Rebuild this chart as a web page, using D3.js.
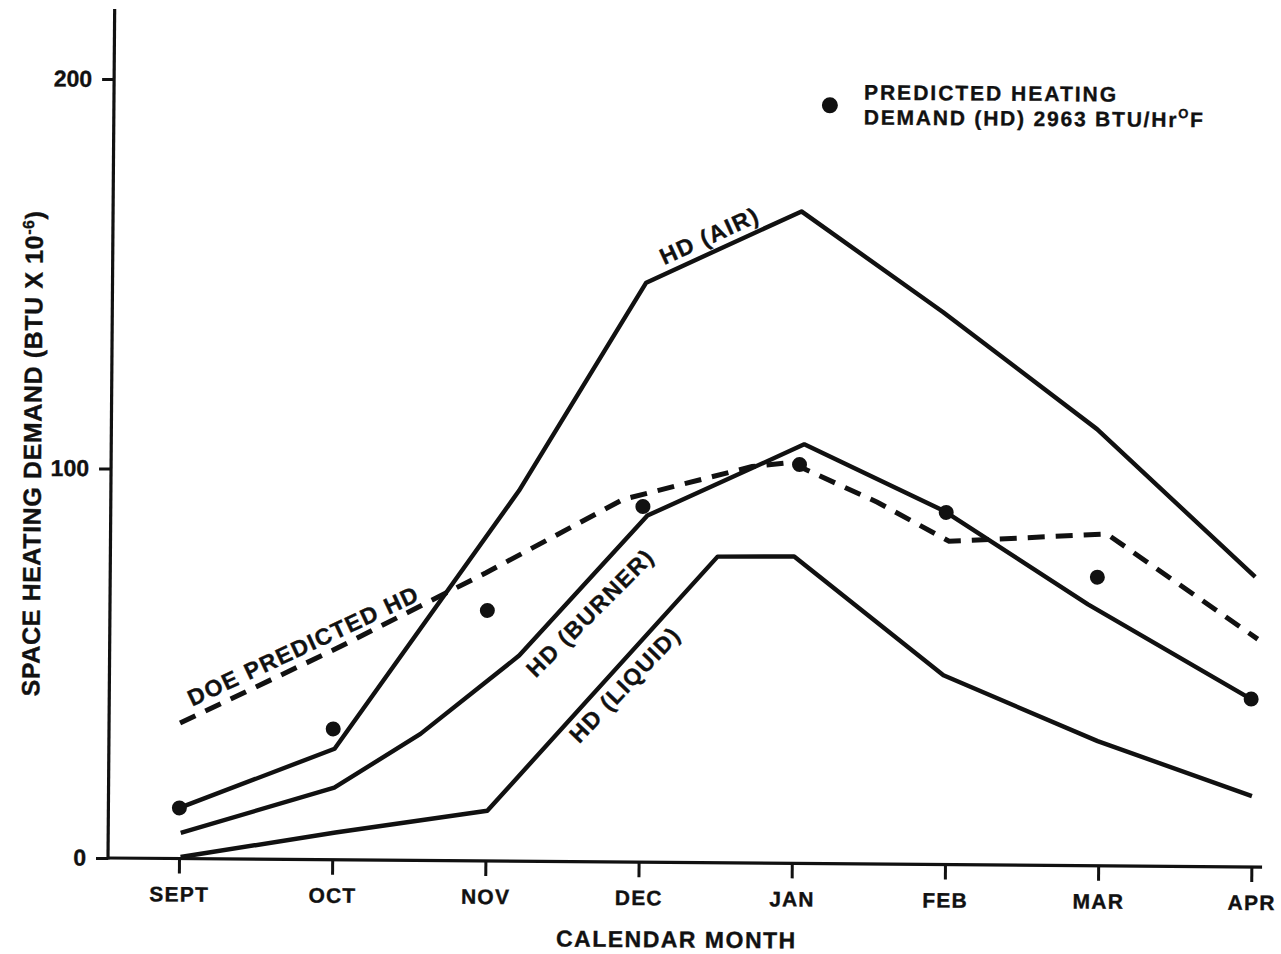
<!DOCTYPE html>
<html>
<head>
<meta charset="utf-8">
<script src="https://d3js.org/d3.v7.min.js"></script>
<style>
  body { margin: 0; background: #fff; }
  text { font-family: "Liberation Sans", Arial, sans-serif; font-weight: bold; fill: #111; stroke: #111; stroke-width: 0.35px; }
</style>
</head>
<body>
<div id="chart"></div>
<script>
// month index (0 = SEPT ... 7 = APR) and space heating demand (BTU x 10^-6)
var months = ["SEPT", "OCT", "NOV", "DEC", "JAN", "FEB", "MAR", "APR"];
var yTicks = [0, 100, 200];

var airX = [0, 1.01, 2.20, 3.02, 4.03, 4.96, 5.97, 7.01];
var airY = [13.0, 28.5, 95.1, 148.8, 167.4, 141.8, 112.1, 74.5];

var burnerX = [0.01, 1.01, 1.57, 2.21, 3.04, 4.06, 4.98, 5.92, 6.99];
var burnerY = [6.6, 18.5, 32.5, 52.8, 89.0, 107.6, 90.7, 67.1, 43.1];

var liquidX = [0.01, 1.02, 2.01, 3.50, 4.00, 4.98, 5.99, 7.0];
var liquidY = [0.4, 7.0, 12.9, 78.6, 78.8, 48.6, 32.0, 18.2];

var doeX = [0, 0.99, 1.99, 2.88, 3.72, 3.97, 4.54, 5.01, 6.04, 7.03];
var doeY = [34.8, 53.7, 74.0, 93.1, 101.8, 102.9, 92.9, 83.0, 85.2, 58.5];

// predicted heating demand (HD) 2963 BTU/Hr F
var predX = [0, 1, 2, 3.01, 4.03, 4.99, 5.98, 6.99];
var predY = [13.0, 33.6, 64.3, 91.3, 102.4, 90.4, 74.1, 43.1];

var W = 1281, H = 954;
var svg = d3.select("#chart").append("svg")
  .attr("width", W)
  .attr("height", H);
svg.append("rect").attr("width", W).attr("height", H).attr("fill", "#fff");

// the scanned original sits slightly tilted
var g = svg.append("g").attr("transform", "rotate(0.45,108,858)");

var x = d3.scaleLinear().domain([0, 7]).range([179, 1251.4]);
var y = d3.scaleLinear().domain([0, 200]).range([858, 79]);
var axisX = 108;

// axis lines
g.append("line")
  .attr("x1", axisX).attr("x2", axisX)
  .attr("y1", y(0) + 1.5).attr("y2", y(218))
  .attr("stroke", "#111").attr("stroke-width", 3.2);
g.append("line")
  .attr("x1", axisX).attr("x2", x(7.07))
  .attr("y1", y(0)).attr("y2", y(0))
  .attr("stroke", "#111").attr("stroke-width", 3.2);

// y axis ticks
var yAxis = g.append("g")
  .attr("transform", "translate(" + axisX + ",0)")
  .call(d3.axisLeft(y).tickValues(yTicks).tickSize(12).tickPadding(10));
yAxis.select(".domain").remove();
yAxis.selectAll(".tick line").attr("stroke", "#111").attr("stroke-width", 3);
yAxis.selectAll(".tick text")
  .attr("font-family", "Liberation Sans, Arial, sans-serif")
  .attr("font-size", 23)
  .attr("font-weight", "bold")
  .attr("fill", "#111");

// x axis ticks
var xAxis = g.append("g")
  .attr("transform", "translate(0," + y(0) + ")")
  .call(d3.axisBottom(x).tickValues(d3.range(months.length))
    .tickFormat(function(i) { return months[i]; }).tickSize(15));
xAxis.select(".domain").remove();
xAxis.selectAll(".tick line").attr("stroke", "#111").attr("stroke-width", 3);
xAxis.selectAll(".tick text")
  .attr("y", 43).attr("dy", null)
  .attr("font-family", "Liberation Sans, Arial, sans-serif")
  .attr("font-size", 21)
  .attr("font-weight", "bold")
  .attr("letter-spacing", 1.2)
  .attr("fill", "#111");

// axis titles
g.append("text")
  .attr("x", 677).attr("y", 943)
  .attr("text-anchor", "middle")
  .attr("font-size", 23)
  .attr("letter-spacing", 1.5)
  .text("CALENDAR MONTH");

var yt = g.append("text")
  .attr("transform", "translate(38,454) rotate(-90)")
  .attr("text-anchor", "middle")
  .attr("font-size", 25)
  .attr("letter-spacing", 0.6);
yt.append("tspan").text("SPACE HEATING DEMAND (BTU X 10");
yt.append("tspan").attr("font-size", 16).attr("dy", -9).text("-6");
yt.append("tspan").attr("dy", 9).text(")");

// lines
var line = d3.line()
  .x(function(d) { return x(d[0]); })
  .y(function(d) { return y(d[1]); });

var solid = [d3.zip(airX, airY), d3.zip(burnerX, burnerY), d3.zip(liquidX, liquidY)];
g.selectAll(".solid").data(solid).enter().append("path")
  .attr("class", "solid")
  .attr("d", line)
  .attr("fill", "none")
  .attr("stroke", "#111")
  .attr("stroke-width", 4.4)
  .attr("stroke-linejoin", "round");

g.append("path")
  .datum(d3.zip(doeX, doeY))
  .attr("d", line)
  .attr("fill", "none")
  .attr("stroke", "#111")
  .attr("stroke-width", 5)
  .attr("stroke-dasharray", "17,11");

// predicted points
g.selectAll(".pt").data(d3.zip(predX, predY)).enter().append("circle")
  .attr("class", "pt")
  .attr("cx", function(d) { return x(d[0]); })
  .attr("cy", function(d) { return y(d[1]); })
  .attr("r", 7.5)
  .attr("fill", "#111");

// line labels: text, month index, value, angle
var labels = [
  ["HD (AIR)", 3.43, 161.0, -25],
  ["DOE PREDICTED HD", 0.80, 54.9, -25.5],
  ["HD (BURNER)", 2.67, 64.0, -45.5],
  ["HD (LIQUID)", 2.90, 45.6, -47]
];
g.selectAll(".lbl").data(labels).enter().append("text")
  .attr("class", "lbl")
  .attr("transform", function(d) {
    return "translate(" + x(d[1]) + "," + y(d[2]) + ") rotate(" + d[3] + ")";
  })
  .attr("text-anchor", "middle")
  .attr("dy", "0.36em")
  .attr("font-size", 23)
  .attr("letter-spacing", 1.5)
  .text(function(d) { return d[0]; });

// legend
var lx = x(4.21), ly = y(194.7);
g.append("circle").attr("cx", lx).attr("cy", ly).attr("r", 8).attr("fill", "#111");
g.append("text")
  .attr("x", lx + 34).attr("y", ly - 6)
  .attr("font-size", 21).attr("letter-spacing", 2)
  .text("PREDICTED HEATING");
var l2 = g.append("text")
  .attr("x", lx + 34).attr("y", ly + 19)
  .attr("font-size", 21).attr("letter-spacing", 1.8);
l2.append("tspan").text("DEMAND (HD) 2963 BTU/Hr");
l2.append("tspan").attr("font-size", 13).attr("dy", -9).text("O");
l2.append("tspan").attr("dy", 9).text("F");
</script>
</body>
</html>
